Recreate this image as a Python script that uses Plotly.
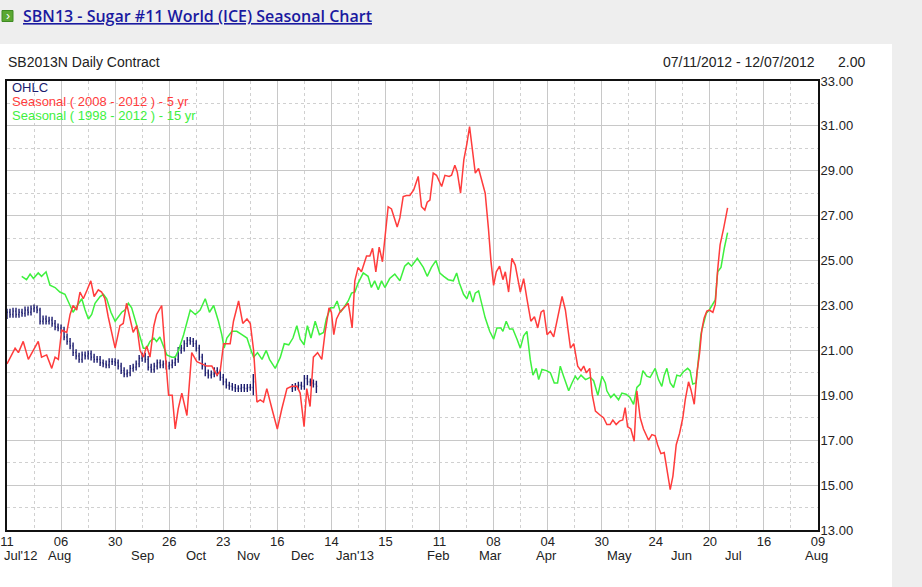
import plotly.graph_objects as go

# trading-day index axis: 0 = 11 Jul 2012, 18 trading days per major grid step
x_tick_vals = [0, 18, 36, 54, 72, 90, 108, 126, 144, 162, 180, 198, 216, 234, 252, 270]
x_tick_text = ["11", "06", "30", "26", "23", "16", "14", "15", "11", "08", "04", "30", "24", "20", "16", "09"]
month_labels = ["Jul'12", "Aug", "Sep", "Oct", "Nov", "Dec", "Jan'13", "Feb", "Mar", "Apr", "May", "Jun", "Jul", "Aug"]
month_pos = [4.7, 17.6, 45, 63, 80.6, 98.5, 116, 143.5, 161, 179.5, 204, 224.5, 242, 269.5]

# OHLC for the SB2013N contract (daily)
ohlc_idx = list(range(0, 83)) + list(range(95, 104))
ohlc_open = [22.55, 22.70, 22.60, 22.75, 22.60, 22.70, 22.65, 22.80, 22.70, 22.85,
             22.90, 22.80, 22.30, 22.40, 22.30, 22.35, 22.20, 22.05, 22.00, 21.90,
             21.60, 21.40, 21.20, 20.90, 20.75, 20.60, 20.80, 20.75, 20.85, 20.70,
             20.60, 20.60, 20.45, 20.40, 20.35, 20.50, 20.50, 20.45, 20.30, 20.10,
             19.95, 20.00, 20.20, 20.25, 20.40, 20.65, 20.75, 20.60, 20.25, 20.15,
             20.30, 20.45, 20.35, 20.40, 20.30, 20.35, 20.45, 20.60, 21.00, 21.10,
             21.30, 21.45, 21.40, 21.30, 21.10, 20.70, 20.30, 20.00, 19.90, 19.95,
             20.10, 20.00, 19.80, 19.60, 19.45, 19.40, 19.35, 19.30, 19.30, 19.35,
             19.30, 19.35, 19.35,
             19.30, 19.35, 19.40, 19.45, 19.40, 19.75, 19.60, 19.55, 19.50]
ohlc_high = [22.85, 22.85, 22.90, 22.90, 22.85, 22.85, 22.95, 22.95, 23.00, 23.05,
             23.00, 22.90, 22.55, 22.55, 22.50, 22.50, 22.35, 22.20, 22.15, 22.05,
             21.75, 21.55, 21.35, 21.05, 20.90, 20.95, 20.95, 21.00, 21.00, 20.85,
             20.75, 20.75, 20.60, 20.55, 20.65, 20.65, 20.65, 20.60, 20.45, 20.25,
             20.15, 20.35, 20.40, 20.55, 20.80, 20.90, 20.90, 20.75, 20.40, 20.45,
             20.60, 20.60, 20.55, 20.55, 20.50, 20.60, 20.75, 21.15, 21.25, 21.45,
             21.60, 21.60, 21.55, 21.45, 21.25, 20.85, 20.45, 20.15, 20.10, 20.25,
             20.25, 20.15, 19.95, 19.75, 19.60, 19.55, 19.50, 19.45, 19.50, 19.50,
             19.50, 19.50, 19.95,
             19.50, 19.55, 19.60, 19.60, 19.90, 19.90, 19.75, 19.70, 19.65]
ohlc_low = [22.40, 22.45, 22.45, 22.45, 22.45, 22.50, 22.50, 22.55, 22.55, 22.70,
            22.65, 22.15, 22.15, 22.15, 22.15, 22.05, 21.90, 21.85, 21.75, 21.45,
            21.25, 21.05, 20.75, 20.60, 20.45, 20.45, 20.60, 20.60, 20.55, 20.45,
            20.45, 20.30, 20.25, 20.20, 20.20, 20.35, 20.30, 20.15, 19.95, 19.80,
            19.80, 19.85, 20.05, 20.10, 20.25, 20.50, 20.45, 20.10, 20.00, 20.00,
            20.15, 20.20, 20.20, 20.15, 20.15, 20.20, 20.30, 20.45, 20.85, 20.95,
            21.15, 21.25, 21.15, 20.95, 20.55, 20.15, 19.85, 19.75, 19.75, 19.80,
            19.85, 19.65, 19.45, 19.30, 19.25, 19.20, 19.15, 19.15, 19.15, 19.15,
            19.15, 19.20, 19.00,
            19.15, 19.20, 19.25, 19.25, 19.25, 19.45, 19.40, 19.35, 19.10]
ohlc_close = [22.70, 22.60, 22.75, 22.60, 22.70, 22.65, 22.80, 22.70, 22.85, 22.90,
              22.80, 22.30, 22.40, 22.30, 22.35, 22.20, 22.05, 22.00, 21.90, 21.60,
              21.40, 21.20, 20.90, 20.75, 20.60, 20.80, 20.75, 20.85, 20.70, 20.60,
              20.60, 20.45, 20.40, 20.35, 20.50, 20.50, 20.45, 20.30, 20.10, 19.95,
              20.00, 20.20, 20.25, 20.40, 20.65, 20.75, 20.60, 20.25, 20.15, 20.30,
              20.45, 20.35, 20.40, 20.30, 20.35, 20.45, 20.60, 21.00, 21.10, 21.30,
              21.45, 21.40, 21.30, 21.10, 20.70, 20.30, 20.00, 19.90, 19.95, 20.10,
              20.00, 19.80, 19.60, 19.45, 19.40, 19.35, 19.30, 19.30, 19.35, 19.30,
              19.35, 19.35, 19.60,
              19.35, 19.40, 19.45, 19.40, 19.75, 19.60, 19.55, 19.50, 19.40]

# Seasonal ( 2008 - 2012 ) - 5 yr
s5_x = [0, 2.7, 3.8, 5.4, 7.1, 8.8, 10.4, 11.5, 13.2, 14.9, 16, 17.1, 18.2, 19.9, 21, 22, 23.2,
        24.3, 25.4, 26.7, 27.9, 29, 30.4, 31.5, 32.6, 33.7, 36, 37.6, 38.7, 39.8, 40.7, 42,
        43.2, 44.3, 45.4, 46.5, 47.6, 48.9, 49.8, 51.5, 52.6, 53.8, 55, 56, 57, 58.2, 59.9,
        61.5, 63.2, 64.9, 66.5, 68.2, 69.9, 71, 72.1, 73.2, 74.3, 75.4, 77.1, 78.5, 79.9,
        81, 82.1, 83.2, 84.3, 85.4, 86.5, 88.2, 90, 91.5, 93.2, 94.8, 96.5, 97.6, 98.9,
        99.8, 100.9, 102, 103.4, 104.8, 105.9, 107.2, 108, 108.8, 109.7, 110.8, 112.1,
        113.6, 114.1, 114.9, 115.8, 116.9, 118, 119.7, 120.8, 121.7, 122.8, 123.9, 125,
        125.8, 126.9, 128, 129.1, 129.9, 130.8, 131.9, 133, 134.1, 135.4, 136.9, 138,
        139.1, 139.9, 140.8, 141.9, 143, 144.7, 145.8, 147.2, 148, 149.1, 149.9, 151,
        152.1, 153.1, 154, 154.8, 155.9, 157, 158.1, 159.2, 160.3, 161.1, 162, 162.9, 164,
        165.1, 165.9, 167, 168.1, 169.2, 170.9, 172, 173.1, 174.4, 175.6, 176.7, 177.8,
        178.7, 179.8, 180.9, 182, 183.3, 184.8, 185.9, 186.7, 187.6, 188.7, 190, 191.1,
        192, 192.9, 194, 194.8, 195.9, 197.6, 198.6, 199.7, 200.8, 201.7, 202.8, 203.9,
        205, 205.8, 206.6, 207.7, 208.8, 209.7, 210.8, 211.9, 213.6, 214.7, 215.8, 216.6,
        217.7, 218.8, 219.7, 220.8, 221.7, 222.8, 223.9, 225, 225.8, 226.9, 227.7, 228.8,
        229.7, 230.6, 231.3, 232.1, 233, 233.8, 235, 235.8, 236.6, 237.4, 238.6, 239.9]
s5_y = [20.4, 21.1, 20.9, 21.4, 20.6, 21.0, 21.4, 20.7, 20.8, 20.2, 20.7, 20.6, 21.9, 21.8, 22.6,
        23.0, 22.8, 23.6, 23.3, 23.7, 24.1, 23.4, 23.7, 23.6, 23.3, 22.5, 21.1, 22.1, 22.2,
        23.1, 22.6, 21.8, 22.1, 21.0, 20.7, 21.2, 20.7, 22.1, 22.6, 23.0, 21.0, 19.0, 19.0,
        17.5, 18.4, 19.1, 18.1, 20.9, 20.5, 20.4, 20.3, 20.3, 19.9, 20.1, 21.3, 21.3, 21.3,
        22.3, 23.2, 22.2, 22.4, 22.2, 21.0, 18.7, 18.8, 18.7, 19.3, 18.4, 17.5, 18.4, 19.3,
        19.4, 19.4, 19.1, 17.6, 19.3, 18.5, 20.7, 20.9, 20.6, 21.8, 22.9, 22.7, 21.7, 22.4,
        22.7, 22.9, 23.1, 22.7, 22.0, 24.1, 24.7, 24.5, 25.2, 25.2, 25.55, 24.5, 25.6, 24.95,
        26.1, 27.4, 27.3, 26.8, 26.5, 26.9, 27.85, 27.9, 27.9, 28.15, 28.75, 27.4, 27.25,
        27.6, 27.7, 28.9, 28.8, 28.3, 28.8, 28.75, 28.8, 29.25, 28.95, 28.0, 29.5, 30.2,
        30.97, 30.1, 28.9, 29.1, 28.6, 28.0, 26.4, 25.0, 23.9, 24.5, 24.75, 24.15, 24.5,
        23.6, 25.1, 24.8, 23.6, 24.2, 23.3, 22.3, 22.5, 22.0, 22.7, 22.8, 21.7, 21.85, 21.6,
        22.5, 23.4, 22.8, 22.1, 21.1, 21.3, 20.3, 20.1, 20.3, 20.0, 20.2, 19.05, 18.3, 18.1,
        18.0, 17.7, 17.7, 17.9, 17.7, 17.85, 17.9, 18.45, 17.6, 17.5, 16.95, 19.2, 18.0,
        17.5, 17.0, 17.25, 17.2, 16.8, 16.4, 16.45, 15.7, 14.8, 15.4, 16.8, 17.3, 18.0, 18.8,
        19.6, 19.25, 18.6, 20.0, 20.9, 21.9, 22.45, 22.75, 22.8, 22.7, 23.05, 24.6, 25.7,
        26.45, 27.35]

# Seasonal ( 1998 - 2012 ) - 15 yr
s15_x = [4.9, 6.5, 7.7, 8.8, 10.4, 11.5, 13, 14.3, 16, 17.6, 19.3, 21, 22, 23.4, 24.9, 26, 27.1,
         28.2, 29.3, 31, 32.1, 33.2, 34.6, 36, 37.1, 38.2, 39.3, 40.4, 41.5, 43.2, 44.3, 45.4,
         46.5, 47.6, 48.9, 49.8, 50.9, 52.1, 53.2, 54.9, 56, 57.1, 58.8, 61, 62.7, 64.3, 66,
         67.4, 68.8, 70.4, 71.5, 72.3, 73.2, 74.9, 76.5, 78.2, 79.9, 81, 82.1, 83.4, 84.9,
         86.3, 87.4, 89.3, 91, 92.3, 93.8, 95.2, 96.5, 97.6, 98.9, 100, 101.2, 102.6, 104,
         105.4, 106.3, 107.7, 108.8, 109.9, 111, 112.1, 113.6, 114.7, 115.8, 116.9, 118.6,
         120.2, 121.3, 122.4, 123.6, 124.7, 125.8, 127.4, 129.1, 130.8, 132.4, 133.6, 134.7,
         136.6, 138.6, 139.9, 141.3, 142.8, 144.1, 145.4, 146.9, 148.6, 149.7, 150.6, 152,
         153.1, 154, 155.1, 155.9, 157, 158.1, 159.2, 160.7, 162, 163.1, 164.4, 165.1, 166.2,
         167.3, 168.4, 169.8, 170.9, 172, 173.1, 174.2, 175.1, 176.2, 177, 178.1, 179.6,
         180.9, 182.2, 183.3, 184.2, 185.3, 187, 188.1, 189.2, 190, 191.1, 192.6, 194.2,
         195.3, 196.7, 198.1, 199.2, 199.7, 201, 202.1, 203.6, 204.7, 206.1, 207.4, 208.6,
         209.7, 210.8, 211.7, 213, 214.1, 215.8, 216.9, 218, 218.8, 219.7, 220.8, 221.9, 223,
         224.1, 225.2, 226.6, 227.4, 228.3, 229.4, 230.2, 231, 231.9, 232.8, 233.8, 235,
         235.8, 236.6, 237.7, 238.8, 239.9]
s15_y = [24.3, 24.15, 24.4, 24.2, 24.45, 24.3, 24.5, 23.9, 23.8, 23.6, 23.5, 23.0, 22.7, 23.0,
         23.3, 22.8, 22.4, 22.6, 23.1, 23.4, 23.5, 23.3, 22.7, 22.3, 22.5, 22.7, 22.8, 23.1,
         22.9, 22.15, 21.7, 21.1, 21.1, 21.4, 21.55, 21.4, 21.6, 21.2, 20.8, 20.7, 20.7, 21.0,
         21.7, 22.8, 22.6, 22.8, 23.3, 22.7, 23.0, 22.3, 21.7, 21.1, 21.55, 21.85, 21.85,
         21.7, 21.55, 21.1, 20.7, 20.9, 20.6, 21.0, 20.6, 20.2, 20.7, 21.3, 21.25, 21.55,
         22.1, 21.5, 21.25, 22.1, 21.55, 22.3, 21.7, 21.8, 22.4, 22.9, 22.9, 23.2, 22.7, 22.9,
         23.2, 23.55, 23.6, 24.0, 24.45, 24.3, 23.8, 24.1, 23.7, 24.1, 23.8, 24.2, 24.4, 24.1,
         24.75, 24.9, 24.75, 25.1, 24.7, 24.3, 24.7, 25.0, 24.45, 24.3, 24.15, 24.1, 24.45,
         24.0, 23.5, 23.3, 23.65, 23.15, 23.55, 23.65, 23.0, 22.45, 21.85, 21.5, 22.0, 22.0,
         21.85, 22.3, 21.95, 21.95, 21.5, 21.1, 21.65, 21.85, 20.6, 19.9, 20.2, 19.7, 20.15,
         20.1, 20.0, 19.55, 19.55, 20.3, 19.85, 19.2, 19.55, 19.85, 19.7, 19.9, 19.7, 19.8,
         19.65, 19.0, 19.85, 19.55, 19.2, 18.9, 19.05, 18.8, 19.1, 19.05, 18.9, 18.6, 19.35,
         19.5, 20.1, 19.85, 19.8, 20.2, 19.7, 19.4, 19.9, 20.2, 19.55, 19.35, 19.9, 19.85,
         20.05, 20.2, 20.1, 19.5, 19.55, 20.65, 21.7, 22.2, 22.65, 22.8, 23.05, 23.25, 24.5,
         24.7, 25.55, 26.25]

W, H = 922, 587
L, R, T, B = 7, 818, 81, 530  # plot area in pixels


def px(x):
    return (x - L) / (R - L)


def py(y):
    return (B - y) / (B - T)


navy = "#1c1c6e"
red = "#ff3c3c"
green = "#3ef03e"
font = "Liberation Sans, Arial, sans-serif"

fig = go.Figure()

fig.add_trace(go.Ohlc(
    x=ohlc_idx, open=ohlc_open, high=ohlc_high, low=ohlc_low, close=ohlc_close,
    increasing_line_color=navy, decreasing_line_color=navy,
    line_width=1.4, tickwidth=0.3, showlegend=False, hoverinfo="skip",
))
fig.add_trace(go.Scatter(x=s15_x, y=s15_y, mode="lines",
                         line=dict(color=green, width=1.5), showlegend=False))
fig.add_trace(go.Scatter(x=s5_x, y=s5_y, mode="lines",
                         line=dict(color=red, width=1.5), showlegend=False))

# month names under the day numbers
annotations = []
for name, pos in zip(month_labels, month_pos):
    annotations.append(dict(x=pos, y=py(555), xref="x", yref="paper", text=name,
                            showarrow=False, font=dict(family=font, size=13, color="#222"),
                            xanchor="center", yanchor="middle"))

# page header and chart captions
annotations += [
    dict(x=px(21), y=py(16), xref="paper", yref="paper",
         text="<u>SBN13 - Sugar #11 World (ICE) Seasonal Chart</u>", showarrow=False,
         font=dict(family="Open Sans, sans-serif", size=16, color="#1a1aa0", weight=600),
         xanchor="left", yanchor="middle"),
    dict(x=px(6), y=py(62), xref="paper", yref="paper", text="SB2013N Daily Contract",
         showarrow=False, font=dict(family=font, size=14, color="#222"),
         xanchor="left", yanchor="middle"),
    dict(x=px(817), y=py(62), xref="paper", yref="paper", text="07/11/2012 - 12/07/2012",
         showarrow=False, font=dict(family=font, size=14, color="#222"),
         xanchor="right", yanchor="middle"),
    dict(x=px(836), y=py(62), xref="paper", yref="paper", text="2.00",
         showarrow=False, font=dict(family=font, size=14, color="#222"),
         xanchor="left", yanchor="middle"),
    dict(x=px(10), y=py(88), xref="paper", yref="paper", text="OHLC",
         showarrow=False, font=dict(family=font, size=13, color=navy),
         xanchor="left", yanchor="middle"),
    dict(x=px(10), y=py(101.5), xref="paper", yref="paper",
         text="Seasonal ( 2008 - 2012 ) - 5 yr",
         showarrow=False, font=dict(family=font, size=13, color=red),
         xanchor="left", yanchor="middle"),
    dict(x=px(10), y=py(115), xref="paper", yref="paper",
         text="Seasonal ( 1998 - 2012 ) - 15 yr",
         showarrow=False, font=dict(family=font, size=13, color=green),
         xanchor="left", yanchor="middle"),
    dict(x=px(7.5), y=py(16), xref="paper", yref="paper", text="›",
         showarrow=False, font=dict(family=font, size=12, color="white"),
         xanchor="center", yanchor="middle"),
]

shapes = [
    # white chart panel
    dict(type="rect", xref="paper", yref="paper", x0=px(0), x1=px(892), y0=py(H), y1=py(44),
         fillcolor="white", line_width=0, layer="below"),
    # green header icon
    dict(type="rect", xref="paper", yref="paper", x0=px(2), x1=px(13), y0=py(21.5), y1=py(10.5),
         fillcolor="#5aa832", line=dict(color="#3e8a22", width=1), layer="above"),
]

fig.update_layout(
    width=W, height=H,
    margin=dict(l=L, r=W - R, t=T, b=H - B),
    paper_bgcolor="#eeeeee", plot_bgcolor="white",
    font=dict(family=font, size=13, color="#222"),
    showlegend=False,
    annotations=annotations, shapes=shapes,
    xaxis=dict(
        range=[0, 270], tickmode="array", tickvals=x_tick_vals, ticktext=x_tick_text,
        showgrid=True, gridcolor="#c8c8c8", gridwidth=1,
        minor=dict(dtick=9, tick0=0, showgrid=True, gridcolor="#d0d0d0", griddash="dot"),
        showline=True, linecolor="#111", linewidth=2, mirror=True,
        ticks="", zeroline=False, rangeslider=dict(visible=False), automargin=False,
        ticklabelstandoff=-2,
        tickfont=dict(family=font, size=13, color="#222"),
    ),
    yaxis=dict(
        range=[13, 33], side="right", tickmode="linear", tick0=13, dtick=2,
        tickformat=".2f", showgrid=True, gridcolor="#c8c8c8", gridwidth=1,
        minor=dict(dtick=1, tick0=13, showgrid=True, gridcolor="#d0d0d0", griddash="dot"),
        showline=True, linecolor="#111", linewidth=2, mirror=True,
        ticks="", zeroline=False, automargin=False, ticklabelstandoff=-2,
        tickfont=dict(family=font, size=13, color="#222"),
    ),
)

# the page body has a default 8px margin; drop it so the figure sits at the window corner
fig.write_html("out.html", config={"displayModeBar": False},
               post_script="document.body.style.margin='0';")
